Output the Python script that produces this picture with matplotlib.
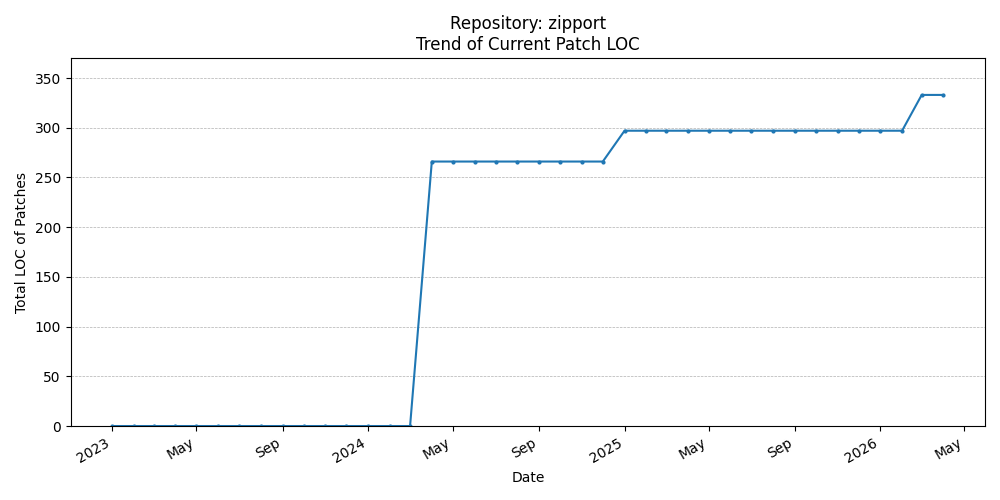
import matplotlib
matplotlib.use("Agg")
import matplotlib.pyplot as plt
import matplotlib.dates as mdates
import pandas as pd

dates = pd.date_range("2023-01-01", "2026-04-01", freq="MS")
loc = [0] * 15 + [266] * 9 + [297] * 14 + [333] * 2

fig, ax = plt.subplots(figsize=(10, 5), dpi=100)
ax.plot(dates, loc, marker="o", ms=2, color="#1f77b4")
ax.set_ylim(0, 370)
ax.set_title("Repository: zipport\nTrend of Current Patch LOC")
ax.set_xlabel("Date")
ax.set_ylabel("Total LOC of Patches")
ax.grid(True, axis="y", ls="--", lw=0.5)
ax.xaxis.set_major_locator(mdates.AutoDateLocator())
ax.xaxis.set_major_formatter(mdates.ConciseDateFormatter(ax.xaxis.get_major_locator()))
fig.autofmt_xdate()
fig.tight_layout()
fig.savefig("out.png")
